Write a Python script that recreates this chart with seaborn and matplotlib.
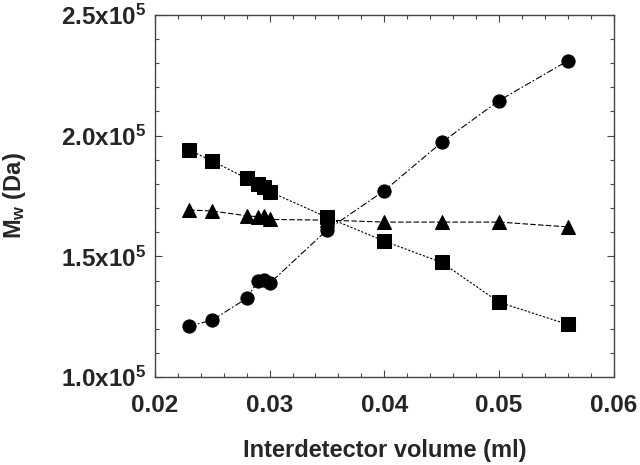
import pandas as pd
import matplotlib.pyplot as plt
import seaborn as sns
from matplotlib.ticker import MultipleLocator, FuncFormatter

sns.set_style("ticks")
plt.rcParams['font.family'] = ['Liberation Sans', 'DejaVu Sans']
plt.rcParams['font.weight'] = 'bold'
plt.rcParams['mathtext.fontset'] = 'custom'
plt.rcParams['mathtext.rm'] = 'Liberation Sans:bold'
plt.rcParams['mathtext.it'] = 'Liberation Sans:bold'
plt.rcParams['mathtext.bf'] = 'Liberation Sans:bold'

# Interdetector volume (ml)
volume = [0.023, 0.025, 0.028, 0.029, 0.0295, 0.030, 0.035, 0.040, 0.045, 0.050, 0.056]

# Mw (Da) for the three series
mw_square = [1.940e5, 1.895e5, 1.823e5, 1.800e5, 1.788e5, 1.768e5, 1.662e5, 1.563e5, 1.475e5, 1.310e5, 1.218e5]
mw_triangle = [1.692e5, 1.688e5, 1.668e5, 1.664e5, 1.666e5, 1.653e5, 1.650e5, 1.642e5, 1.642e5, 1.642e5, 1.622e5]
mw_circle = [1.211e5, 1.236e5, 1.326e5, 1.399e5, 1.401e5, 1.388e5, 1.609e5, 1.772e5, 1.972e5, 2.145e5, 2.310e5]

df = pd.concat([
    pd.DataFrame({'volume': volume, 'mw': mw_square, 'series': 'square'}),
    pd.DataFrame({'volume': volume, 'mw': mw_triangle, 'series': 'triangle'}),
    pd.DataFrame({'volume': volume, 'mw': mw_circle, 'series': 'circle'}),
])

fig = plt.figure(figsize=(6.4, 4.65), dpi=100)
ax = fig.add_axes([0.242, 0.189, 0.717, 0.779])

sns.lineplot(data=df, x='volume', y='mw', hue='series', style='series',
             palette={'square': 'black', 'triangle': 'black', 'circle': 'black'},
             markers={'square': 's', 'triangle': '^', 'circle': 'o'},
             dashes={'square': (2, 1.5), 'triangle': (5, 2), 'circle': (6, 2, 1.5, 2)},
             estimator=None, sort=False, linewidth=0.8, markersize=9.5,
             markeredgecolor='black', legend=False, ax=ax)

ax.set_xlim(0.02, 0.06)
ax.set_ylim(1.0e5, 2.5e5)
ax.xaxis.set_major_locator(MultipleLocator(0.01))
ax.xaxis.set_minor_locator(MultipleLocator(0.002))
ax.yaxis.set_major_locator(MultipleLocator(0.5e5))
ax.yaxis.set_minor_locator(MultipleLocator(0.1e5))
ax.xaxis.set_major_formatter(FuncFormatter(lambda v, p: f"{v:.2f}"))
ax.yaxis.set_major_formatter(FuncFormatter(lambda v, p: f"{v/1e5:.1f}x10$^{{5}}$"))

ax.tick_params(which='both', direction='in', top=True, right=True, labelsize=17.5,
               color='#444444', width=0.8)
ax.tick_params(which='major', length=5)
ax.tick_params(which='minor', length=3)
ax.tick_params(axis='x', which='major', pad=12)
ax.tick_params(axis='y', which='major', pad=6)
for lab in ax.get_xticklabels() + ax.get_yticklabels():
    lab.set_fontweight('bold')
for s in ax.spines.values():
    s.set_color('#444444')
    s.set_linewidth(1.0)

ax.set_xlabel("Interdetector volume (ml)", fontsize=17, fontweight='bold', labelpad=16)
ax.set_ylabel("M$_w$ (Da)", fontsize=17, fontweight='bold', labelpad=24)

fig.savefig("out.png", dpi=100)
